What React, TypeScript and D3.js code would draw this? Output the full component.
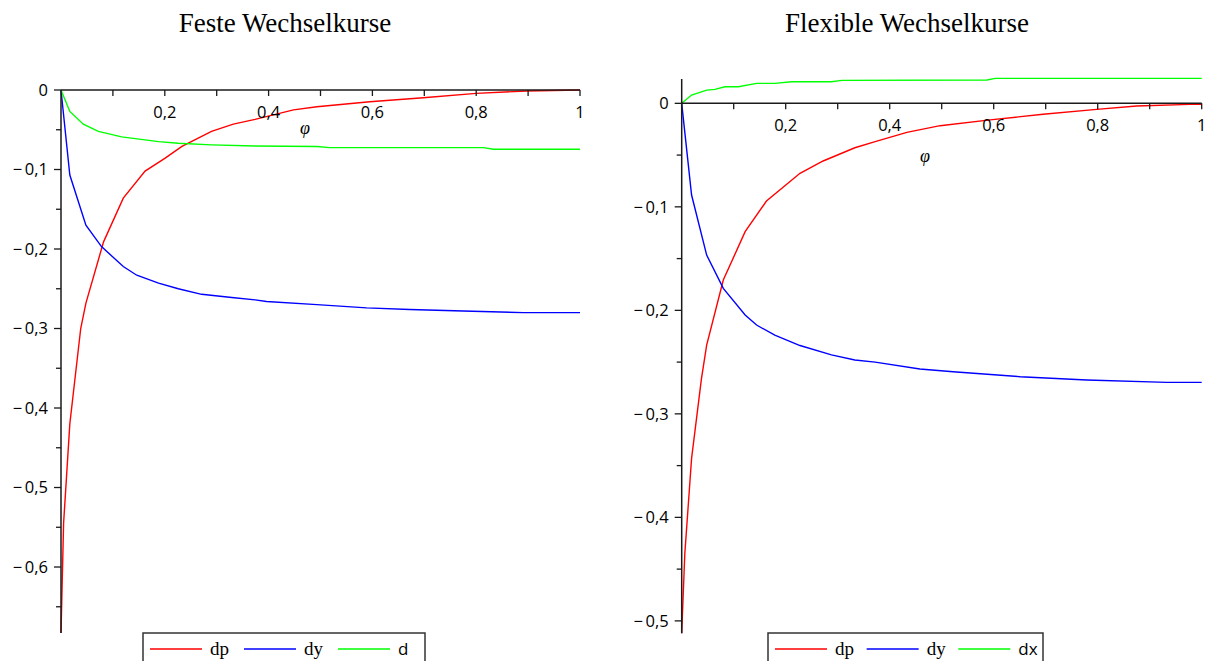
import React from "react";
import * as d3 from "d3";

// ---------- data ----------
const xTicks = [0.1, 0.2, 0.3, 0.4, 0.5, 0.6, 0.7, 0.8, 0.9, 1.0];
const xTickLabels = ["", "0,2", "", "0,4", "", "0,6", "", "0,8", "", "1"];

// Feste Wechselkurse
const leftX_dp = [0, 0.005, 0.017, 0.038, 0.048, 0.082, 0.12, 0.162, 0.2, 0.233, 0.29, 0.332, 0.374, 0.448, 0.493, 0.595, 0.698, 0.8, 0.897, 1.0];
const leftDp = [-0.683, -0.545, -0.42, -0.3, -0.268, -0.191, -0.136, -0.102, -0.086, -0.071, -0.052, -0.043, -0.037, -0.025, -0.021, -0.0147, -0.0097, -0.0042, -0.0013, 0];
const leftX_dy = [0, 0.017, 0.048, 0.078, 0.12, 0.146, 0.188, 0.226, 0.271, 0.329, 0.374, 0.396, 0.493, 0.589, 0.672, 0.775, 0.891, 1.0];
const leftDy = [0, -0.107, -0.17, -0.197, -0.222, -0.233, -0.243, -0.25, -0.257, -0.261, -0.264, -0.266, -0.27, -0.274, -0.276, -0.278, -0.28, -0.28];
const leftX_d = [0, 0.017, 0.043, 0.072, 0.117, 0.188, 0.226, 0.29, 0.374, 0.493, 0.518, 0.814, 0.833, 1.0];
const leftD = [0, -0.027, -0.043, -0.052, -0.059, -0.065, -0.067, -0.069, -0.0705, -0.071, -0.0725, -0.0725, -0.0746, -0.0746];
const leftYMajor = [0, -0.1, -0.2, -0.3, -0.4, -0.5, -0.6];
const leftYMinor = [-0.05, -0.15, -0.25, -0.35, -0.45, -0.55, -0.65];
const leftYLabels = ["0", "0,1", "0,2", "0,3", "0,4", "0,5", "0,6"];

// Flexible Wechselkurse
const rightX_dp = [0, 0.006, 0.019, 0.038, 0.048, 0.08, 0.122, 0.163, 0.2275, 0.272, 0.333, 0.372, 0.433, 0.497, 0.593, 0.695, 0.798, 0.875, 0.977, 1.0];
const rightDp = [-0.512, -0.435, -0.343, -0.266, -0.2335, -0.1707, -0.124, -0.0944, -0.0676, -0.0557, -0.0429, -0.037, -0.028, -0.0216, -0.016, -0.0106, -0.0058, -0.0026, -0.001, -0.001];
const rightX_dy = [0, 0.019, 0.048, 0.08, 0.122, 0.144, 0.179, 0.2275, 0.288, 0.333, 0.372, 0.458, 0.522, 0.651, 0.779, 0.933, 1.0];
const rightDy = [0, -0.0886, -0.1466, -0.1788, -0.2045, -0.2142, -0.224, -0.234, -0.243, -0.248, -0.25, -0.2567, -0.2593, -0.2641, -0.2673, -0.2696, -0.2696];
const rightX_dx = [0, 0.019, 0.048, 0.064, 0.083, 0.109, 0.144, 0.179, 0.2115, 0.288, 0.308, 0.587, 0.603, 1.0];
const rightDx = [0, 0.008, 0.0128, 0.0135, 0.016, 0.016, 0.0193, 0.0193, 0.0209, 0.0209, 0.0222, 0.0225, 0.0241, 0.0241];
const rightYMajor = [0, -0.1, -0.2, -0.3, -0.4, -0.5];
const rightYMinor = [-0.05, -0.15, -0.25, -0.35, -0.45];
const rightYLabels = ["0", "0,1", "0,2", "0,3", "0,4", "0,5"];

const RED = "#ff0000";
const BLUE = "#0000ff";
const GREEN = "#00ff00";
const AXIS = "#1a1a1a";
const SANS = "'Open Sans', 'DejaVu Sans', sans-serif";
const SERIF = "'Liberation Serif', 'Times New Roman', serif";

type Series = { xs: number[]; ys: number[]; color: string };
type LegendItem = { label: string; color: string; serif: boolean };

function Panel(props: {
  title: string;
  titleX: number;
  left: number;
  right: number;
  top: number;
  bottom: number;
  yDomain: [number, number];
  yMajor: number[];
  yMinor: number[];
  yLabels: string[];
  series: Series[];
  phiPos: [number, number];
  legendX: number;
  legendW: number;
  legendItems: LegendItem[];
}) {
  const { left, right, top, bottom, yDomain } = props;
  const x = d3.scaleLinear().domain([0, 1]).range([left, right]);
  const y = d3.scaleLinear().domain(yDomain).range([bottom, top]);
  const y0 = y(0);
  const line = d3
    .line<[number, number]>()
    .x((d) => x(d[0]))
    .y((d) => y(d[1]));

  const legendTop = 633;
  const itemW = props.legendW / props.legendItems.length;

  return (
    <g>
      <text
        x={props.titleX}
        y={32}
        textAnchor="middle"
        fontFamily={SERIF}
        fontSize={27}
        fill="#000"
      >
        {props.title}
      </text>

      {/* curves */}
      {props.series.map((s, i) => (
        <path
          key={i}
          d={line(s.xs.map((v, j) => [v, s.ys[j]] as [number, number])) || ""}
          fill="none"
          stroke={s.color}
          strokeWidth={1.4}
        />
      ))}

      {/* x axis */}
      <line x1={x(0)} x2={x(1)} y1={y0} y2={y0} stroke={AXIS} strokeWidth={1.5} />
      {xTicks.map((t, i) => (
        <g key={"xt" + i}>
          <line x1={x(t)} x2={x(t)} y1={y0} y2={y0 + 6} stroke={AXIS} strokeWidth={1.3} />
          {xTickLabels[i] && (
            <text
              x={x(t)}
              y={y0 + 28}
              textAnchor="middle"
              fontFamily={SANS}
              fontSize={16.5}
              fill="#000"
            >
              {xTickLabels[i]}
            </text>
          )}
        </g>
      ))}

      {/* y axis */}
      <line x1={x(0)} x2={x(0)} y1={y(yDomain[1])} y2={y(yDomain[0])} stroke={AXIS} strokeWidth={1.5} />
      {props.yMajor.map((t, i) => (
        <g key={"ym" + i}>
          <line x1={x(0) - 7} x2={x(0)} y1={y(t)} y2={y(t)} stroke={AXIS} strokeWidth={1.3} />
          <text
            x={x(0) - 13}
            y={y(t)}
            dy="0.36em"
            textAnchor="end"
            fontFamily={SANS}
            fontSize={16.5}
            fill="#000"
          >
            {t === 0 ? props.yLabels[i] : "\u2212\u2009" + props.yLabels[i]}
          </text>
        </g>
      ))}
      {props.yMinor.map((t, i) => (
        <line key={"yn" + i} x1={x(0) - 5} x2={x(0)} y1={y(t)} y2={y(t)} stroke={AXIS} strokeWidth={1.3} />
      ))}

      {/* phi label */}
      <text
        x={props.phiPos[0]}
        y={props.phiPos[1]}
        textAnchor="middle"
        fontFamily={SERIF}
        fontStyle="italic"
        fontSize={18}
        fill="#000"
      >
        {"\u03C6"}
      </text>

      {/* legend */}
      <rect
        x={props.legendX}
        y={legendTop}
        width={props.legendW}
        height={60}
        fill="#fff"
        stroke="#333"
        strokeWidth={1.5}
      />
      {props.legendItems.map((it, i) => {
        const lx = props.legendX + 7 + i * itemW;
        return (
          <g key={"lg" + i}>
            <line x1={lx} x2={lx + 52} y1={legendTop + 16} y2={legendTop + 16} stroke={it.color} strokeWidth={1.5} />
            <text
              x={lx + 60}
              y={legendTop + 22}
              fontFamily={it.serif ? SERIF : SANS}
              fontSize={it.serif ? 19 : 17}
              fill="#000"
            >
              {it.label}
            </text>
          </g>
        );
      })}
    </g>
  );
}

export default function App() {
  return (
    <svg
      width={1209}
      height={661}
      style={{ position: "absolute", left: 0, top: 0, display: "block", background: "#fff" }}
    >
      <Panel
        title="Feste Wechselkurse"
        titleX={285}
        left={61}
        right={580}
        top={90}
        bottom={633}
        yDomain={[-0.683, 0]}
        yMajor={leftYMajor}
        yMinor={leftYMinor}
        yLabels={leftYLabels}
        series={[
          { xs: leftX_dp, ys: leftDp, color: RED },
          { xs: leftX_dy, ys: leftDy, color: BLUE },
          { xs: leftX_d, ys: leftD, color: GREEN },
        ]}
        phiPos={[305, 134]}
        legendX={143}
        legendW={282}
        legendItems={[
          { label: "dp", color: RED, serif: true },
          { label: "dy", color: BLUE, serif: true },
          { label: "d", color: GREEN, serif: false },
        ]}
      />
      <Panel
        title="Flexible Wechselkurse"
        titleX={907}
        left={681.7}
        right={1201.7}
        top={79}
        bottom={633.3}
        yDomain={[-0.512, 0.0235]}
        yMajor={rightYMajor}
        yMinor={rightYMinor}
        yLabels={rightYLabels}
        series={[
          { xs: rightX_dp, ys: rightDp, color: RED },
          { xs: rightX_dy, ys: rightDy, color: BLUE },
          { xs: rightX_dx, ys: rightDx, color: GREEN },
        ]}
        phiPos={[925, 162]}
        legendX={768}
        legendW={275}
        legendItems={[
          { label: "dp", color: RED, serif: true },
          { label: "dy", color: BLUE, serif: true },
          { label: "dx", color: GREEN, serif: false },
        ]}
      />
    </svg>
  );
}
